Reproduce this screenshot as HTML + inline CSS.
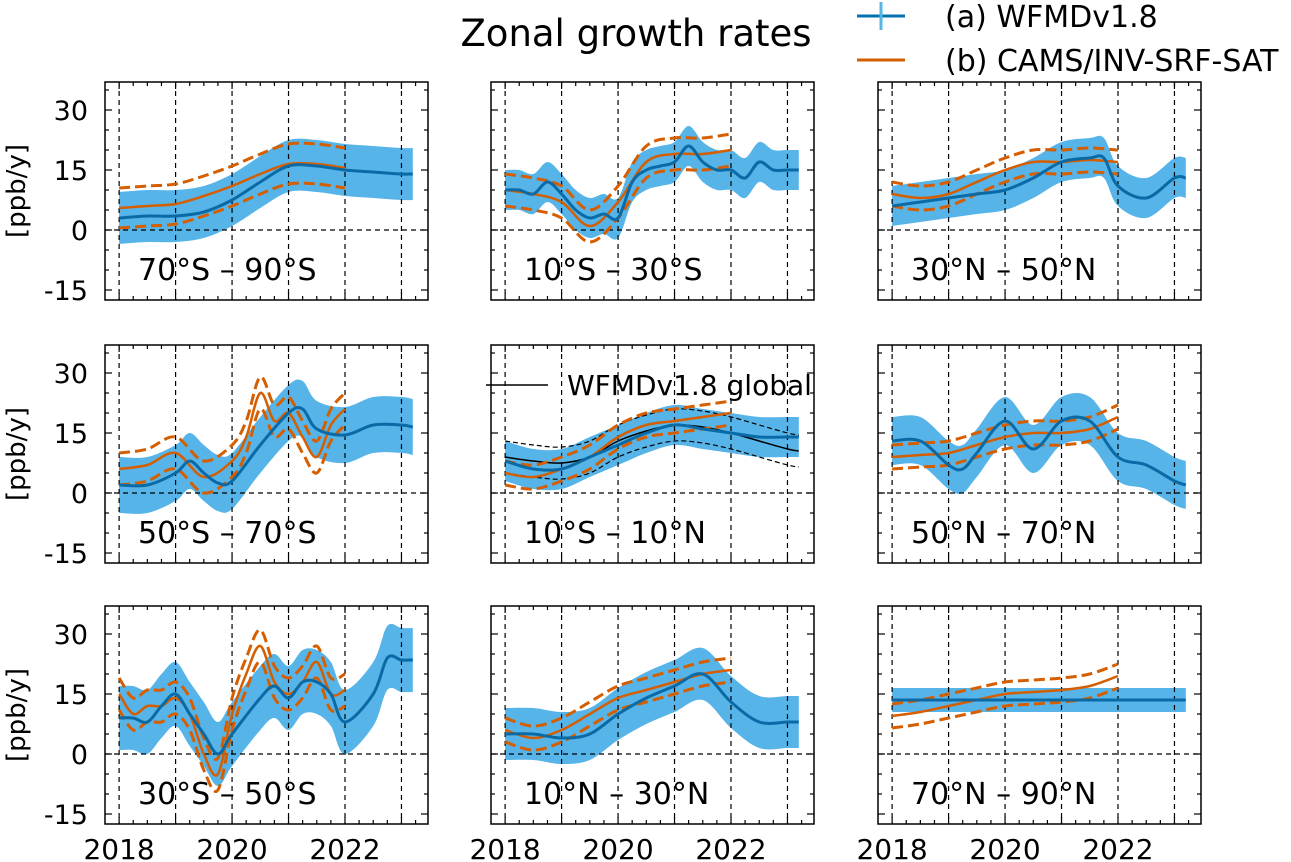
<!DOCTYPE html>
<html><head><meta charset="utf-8">
<style>
body{margin:0;background:#fff;}
svg{display:block;font-family:"DejaVu Sans","Liberation Sans",sans-serif;}
</style></head>
<body>
<svg id="fig" width="1291" height="862" viewBox="0 0 1291 862">
<text x="636" y="46" font-size="37" text-anchor="middle">Zonal growth rates</text>
<g>
<line x1="857" y1="16" x2="905" y2="16" stroke="#0072B2" stroke-width="3"/>
<line x1="881" y1="2" x2="881" y2="30" stroke="#56B4E9" stroke-width="3"/>
<text x="945" y="27" font-size="30">(a) WFMDv1.8</text>
<line x1="857" y1="60" x2="905" y2="60" stroke="#D55E00" stroke-width="3"/>
<text x="945" y="71" font-size="30">(b) CAMS/INV-SRF-SAT</text>
</g>
</svg>
<script>
// ---- data ----
const labels=["70°S – 90°S","10°S – 30°S","30°N – 50°N","50°S – 70°S","10°S – 10°N","50°N – 70°N","30°S – 50°S","10°N – 30°N","70°N – 90°N"];
const blueT=[
[2018,2018.5,2019,2019.5,2020,2020.5,2021,2021.5,2022,2022.5,2023,2023.2],
[2018,2018.25,2018.5,2018.75,2019,2019.25,2019.5,2019.75,2020,2020.25,2020.5,2020.75,2021,2021.25,2021.5,2021.75,2022,2022.25,2022.5,2022.75,2023,2023.2],
[2018,2018.5,2019,2019.5,2020,2020.5,2021,2021.5,2021.75,2022,2022.5,2023,2023.2],
[2018,2018.5,2019,2019.25,2019.5,2019.75,2020,2020.5,2021,2021.25,2021.5,2022,2022.5,2023,2023.2],
[2018,2018.5,2019,2019.5,2020,2020.5,2021,2021.5,2022,2022.5,2023,2023.2],
[2018,2018.5,2019,2019.25,2019.5,2020,2020.5,2021,2021.5,2022,2022.5,2023,2023.2],
[2018,2018.25,2018.5,2018.75,2019,2019.25,2019.5,2019.75,2020,2020.5,2020.75,2021,2021.25,2021.5,2021.75,2022,2022.5,2022.75,2023,2023.2],
[2018,2018.5,2019,2019.5,2020,2020.5,2021,2021.5,2022,2022.5,2023,2023.2],
[2018,2019,2020,2021,2022,2023,2023.2]];
const blueV=[
[3,3.5,3.5,4.5,7.5,12,16,16,15,14.5,14,14],
[10,10,9,12,9,5,3,4,3,12,15,16,17,21,17,15,15,13,17,15,15,15],
[6,7,8,9,10,13,17,18,18,11,8,13,13],
[2,2,5,8,5,2.5,3,12,20,21,16,14.5,17,17,16.5],
[8,6,6,9,12,15,17,16,15,14,14,14],
[13,13,7,6,10,18,11,18,18,9,7,3,2],
[9,9,8,12,15,10,5,0,5,14,17,14,18,18,15,8,15,24,23.5,23.5],
[5,5,4,5,10,14,17,20,13,8,8,8],
[13.5,13.5,13.5,13.5,13.5,13.5,13.5]];
const bandHalf=[6.5,5,5,7,5,6,8,6.5,3];
const orangeT=[
[2018,2018.5,2019,2019.5,2020,2020.5,2021,2021.5,2022],
[2018,2018.5,2019,2019.5,2020,2020.5,2021,2021.5,2022],
[2018,2018.5,2019,2019.5,2020,2020.5,2021,2021.5,2022],
[2018,2018.5,2019,2019.5,2020,2020.25,2020.5,2020.75,2021,2021.25,2021.5,2021.75,2022],
[2018,2018.5,2019,2019.5,2020,2020.5,2021,2021.5,2022],
[2018,2018.5,2019,2019.5,2020,2020.5,2021,2021.5,2022],
[2018,2018.25,2018.5,2018.75,2019,2019.25,2019.5,2019.75,2020,2020.25,2020.5,2020.75,2021,2021.25,2021.5,2021.75,2022],
[2018,2018.5,2019,2019.5,2020,2020.5,2021,2021.5,2022],
[2018,2018.5,2019,2019.5,2020,2020.5,2021,2021.5,2022]];
const orangeV=[
[5.5,6,6.5,8.5,11,14,16.5,16.5,15.5],
[10,9,7,1,7,17,19,19,20],
[9,8,9,12,15,17,17,17.5,17],
[6,7,10,4,8,14,25,18,20,14,9,17,21],
[5,4,6,9,14,17,18,19,20],
[9,9.5,10,12,14,15,15,16,19],
[15,10,12,12,14,10,0,-5,10,20,27,18,15,18,23,15,16],
[6,4,6,10,14,16,18,20,21],
[9.5,10.5,12,13.5,15,15.5,16,17,19.5]];
const orangeSpread=[5,4,3,4,3,3,4,3,3];
const globalT=[2018,2018.5,2019,2019.5,2020,2020.5,2021,2021.5,2022,2022.5,2023,2023.2];
const globalV=[9,8,7.5,9,13,15.5,17,16.5,15,13,11,10.5];
const globalSpread=4;
const yTicks=[-15,0,15,30];
const xTicks=[2018,2020,2022];

// ---- layout ----
const NS="http://www.w3.org/2000/svg";
const svg=document.getElementById('fig');
const colX=[105,491,878], rowY=[82,345,606], PW=323, PH=218;
const XMIN=2017.75,XMAX=2023.47,YMIN=-17.5,YMAX=37;
function mk(tag,attrs,parent){const e=document.createElementNS(NS,tag);for(const k in attrs)e.setAttribute(k,attrs[k]);(parent||svg).appendChild(e);return e;}
function smooth(pts){
 if(pts.length<2)return"";
 let d="M"+pts[0][0].toFixed(1)+","+pts[0][1].toFixed(1);
 for(let i=0;i<pts.length-1;i++){
  const p0=pts[i-1]||pts[i],p1=pts[i],p2=pts[i+1],p3=pts[i+2]||p2;
  const c1=[p1[0]+(p2[0]-p0[0])/6,p1[1]+(p2[1]-p0[1])/6];
  const c2=[p2[0]-(p3[0]-p1[0])/6,p2[1]-(p3[1]-p1[1])/6];
  d+="C"+c1[0].toFixed(1)+","+c1[1].toFixed(1)+" "+c2[0].toFixed(1)+","+c2[1].toFixed(1)+" "+p2[0].toFixed(1)+","+p2[1].toFixed(1);
 }
 return d;
}
for(let p=0;p<9;p++){
 const r=Math.floor(p/3),c=p%3,X0=colX[c],Y0=rowY[r];
 const sx=t=>X0+(t-XMIN)/(XMAX-XMIN)*PW;
 const sy=v=>Y0+(YMAX-v)/(YMAX-YMIN)*PH;
 const g=mk('g',{});
 
 
 const cid='clip'+p;
 const cp=mk('clipPath',{id:cid},g);mk('rect',{x:X0,y:Y0,width:PW,height:PH},cp);
 const inner=mk('g',{'clip-path':'url(#'+cid+')'},g);
 const T=blueT[p],V=blueV[p],h=bandHalf[p];
 const up=T.map((t,i)=>[sx(t),sy(V[i]+h)]),lo=T.map((t,i)=>[sx(t),sy(V[i]-h)]).reverse();
 const bandD=smooth(up)+"L"+smooth(lo).slice(1)+"Z";
 const band=mk('path',{d:bandD,fill:'#56B4E9',stroke:'none'},inner);
 
 
 for(let y=2018;y<=2023;y++)mk('line',{x1:sx(y),x2:sx(y),y1:Y0,y2:Y0+PH,stroke:'#000','stroke-width':1.2,'stroke-dasharray':'5,4'},inner);
 mk('line',{x1:X0,x2:X0+PW,y1:sy(0),y2:sy(0),stroke:'#000','stroke-width':1.2,'stroke-dasharray':'5,4'},inner);
 if(p===4){
  const gp=globalT.map((t,i)=>[sx(t),sy(globalV[i])]);
  const gl=mk('path',{d:smooth(gp),fill:'none',stroke:'#000','stroke-width':1.5},inner);
  
  
  [globalSpread,-globalSpread].forEach(s=>{
   mk('path',{d:smooth(globalT.map((t,i)=>[sx(t),sy(globalV[i]+s)])),fill:'none',stroke:'#000','stroke-width':1.2,'stroke-dasharray':'5,3'},inner);
  });
 }
 const OT=orangeT[p],OV=orangeV[p],os=orangeSpread[p];
 [os,-os].forEach(s=>{
  const d=mk('path',{d:smooth(OT.map((t,i)=>[sx(t),sy(OV[i]+s)])),fill:'none',stroke:'#D55E00','stroke-width':3,'stroke-dasharray':'11,5'},inner);
  
  
 });
 const ol=mk('path',{d:smooth(OT.map((t,i)=>[sx(t),sy(OV[i])])),fill:'none',stroke:'#D55E00','stroke-width':2.5},inner);
 
 
 const bl=mk('path',{d:smooth(T.map((t,i)=>[sx(t),sy(V[i])])),fill:'none',stroke:'#0a6aa6','stroke-width':3},inner);
 
 
 mk('rect',{x:X0,y:Y0,width:PW,height:PH,fill:'none',stroke:'#000','stroke-width':1.5},g);
 for(let v=-15;v<=35;v+=5){const y=sy(v),L=(v%15===0)?7:4;
  mk('line',{x1:X0,x2:X0+L,y1:y,y2:y,stroke:'#000','stroke-width':1.2},g);
  mk('line',{x1:X0+PW,x2:X0+PW-L,y1:y,y2:y,stroke:'#000','stroke-width':1.2},g);}
 for(let t=2018;t<=2023.3;t+=0.25){const x=sx(t),L=(Math.abs(t-Math.round(t))<1e-6)?7:4;
  mk('line',{x1:x,x2:x,y1:Y0+PH,y2:Y0+PH-L,stroke:'#000','stroke-width':1.2},g);
  mk('line',{x1:x,x2:x,y1:Y0,y2:Y0+L,stroke:'#000','stroke-width':1.2},g);}
 if(c===0){
  yTicks.forEach(v=>{const t=mk('text',{x:X0-17,y:sy(v)+10,'font-size':27,'text-anchor':'end'},g);t.textContent=v;
   });
  const yl=mk('text',{x:0,y:0,'font-size':26,'text-anchor':'middle',transform:'translate(25,'+(Y0+PH/2)+') rotate(-90)'},g);
  yl.textContent='[ppb/y]';
  
 }
 if(r===2){
  xTicks.forEach(v=>{const t=mk('text',{x:sx(v),y:Y0+PH+35,'font-size':28,'text-anchor':'middle'},g);t.textContent=v;
   });
 }
 const lab=mk('text',{x:X0+33,y:Y0+PH-20,'font-size':30,'text-anchor':'start'},g);
 lab.textContent=labels[p];
 
 
 if(p===4){
  mk('line',{x1:486,x2:548,y1:385,y2:385,stroke:'#000','stroke-width':1.5},g);
  const lt=mk('text',{x:567,y:395,'font-size':28},g);lt.textContent='WFMDv1.8 global';
  
 }
}
</script>
</body></html>
